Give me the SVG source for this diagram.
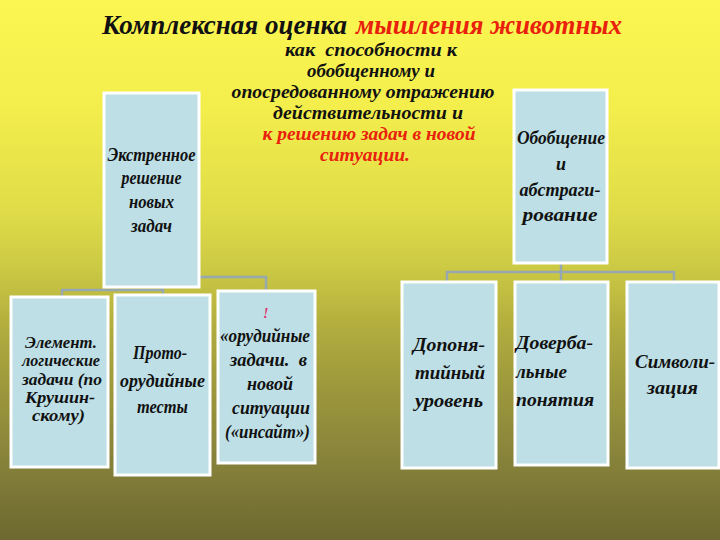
<svg xmlns="http://www.w3.org/2000/svg" width="720" height="540" viewBox="0 0 720 540">
<defs>
<linearGradient id="bg" x1="0" y1="0" x2="0" y2="1">
<stop offset="0" stop-color="#fcf652"/>
<stop offset="0.2" stop-color="#f3ee4c"/>
<stop offset="0.4" stop-color="#dedb48"/>
<stop offset="0.5" stop-color="#cbc844"/>
<stop offset="0.6" stop-color="#b3ae3e"/>
<stop offset="0.7" stop-color="#a09b3c"/>
<stop offset="0.85" stop-color="#87823a"/>
<stop offset="1" stop-color="#6c6830"/>
</linearGradient>
<style>
.box{fill:#bddfe5;stroke:#ffffff;stroke-width:3}
.ln{fill:none;stroke:#98a8b0;stroke-width:2.5}
text{font-family:"Liberation Serif","DejaVu Serif",serif;font-style:italic;font-weight:bold;fill:#111111;white-space:pre}
.c{text-anchor:middle}
.red{fill:#e8200c}
.t{font-size:28px}
.m{font-size:18px}
.b{font-size:18px}
.s{font-size:16px}
</style>
</defs>
<rect x="0" y="0" width="720" height="540" fill="url(#bg)"/>

<g id="title">
<text class="t" x="102" y="34" textLength="245" lengthAdjust="spacingAndGlyphs">Комплексная оценка</text>
<text class="t red" x="356" y="34" textLength="266" lengthAdjust="spacingAndGlyphs">мышления животных</text>
</g>

<g id="definition">
<text class="m c" x="371" y="56" textLength="172" lengthAdjust="spacingAndGlyphs">как  способности к</text>
<text class="m c" x="371" y="77" textLength="128" lengthAdjust="spacingAndGlyphs">обобщенному и</text>
<text class="m c" x="363" y="98" textLength="263" lengthAdjust="spacingAndGlyphs">опосредованному отражению</text>
<text class="m c" x="368" y="119" textLength="190" lengthAdjust="spacingAndGlyphs">действительности и</text>
<text class="m c red" x="369" y="140" textLength="213" lengthAdjust="spacingAndGlyphs">к решению задач в новой</text>
<text class="m c red" x="365" y="161" textLength="90" lengthAdjust="spacingAndGlyphs">ситуации.</text>
</g>

<g id="connectors">
<path class="ln" d="M162 286 V290 M62 297 V290 H163 V295"/>
<path class="ln" d="M198 277 H266 V291"/>
<path class="ln" d="M561 263 V272 M447 282 V272 H674 V282 M561 272 V282"/>
</g>

<g id="n-urgent">
<rect class="box" x="104" y="93" width="95" height="194"/>
<text class="b c" x="151.5" y="161" textLength="88" lengthAdjust="spacingAndGlyphs">Экстренное</text>
<text class="b c" x="151.5" y="184" textLength="60" lengthAdjust="spacingAndGlyphs">решение</text>
<text class="b c" x="151.5" y="208" textLength="45" lengthAdjust="spacingAndGlyphs">новых</text>
<text class="b c" x="151.5" y="232" textLength="41" lengthAdjust="spacingAndGlyphs">задач</text>
</g>

<g id="n-generalization">
<rect class="box" x="514" y="90" width="93" height="173"/>
<text class="b c" x="561" y="144" textLength="88" lengthAdjust="spacingAndGlyphs">Обобщение</text>
<text class="b c" x="561" y="170">и</text>
<text class="b c" x="560" y="196" textLength="81" lengthAdjust="spacingAndGlyphs">абстраги-</text>
<text class="b c" x="560" y="221" textLength="75" lengthAdjust="spacingAndGlyphs">рование</text>
</g>

<g id="n-logic">
<rect class="box" x="11" y="297" width="97" height="170"/>
<text class="s c" x="61" y="348" textLength="72" lengthAdjust="spacingAndGlyphs">Элемент.</text>
<text class="s c" x="61" y="366" textLength="78" lengthAdjust="spacingAndGlyphs">логические</text>
<text class="s c" x="62" y="385" textLength="80" lengthAdjust="spacingAndGlyphs">задачи (по</text>
<text class="s c" x="60" y="403" textLength="70" lengthAdjust="spacingAndGlyphs">Крушин-</text>
<text class="s c" x="58.5" y="421" textLength="53" lengthAdjust="spacingAndGlyphs">скому)</text>
</g>

<g id="n-prototool">
<rect class="box" x="115" y="295" width="95" height="180"/>
<text class="b c" x="160" y="359" textLength="54" lengthAdjust="spacingAndGlyphs">Прото-</text>
<text class="b c" x="162.5" y="387" textLength="85" lengthAdjust="spacingAndGlyphs">орудийные</text>
<text class="b c" x="162.5" y="413" textLength="51" lengthAdjust="spacingAndGlyphs">тесты</text>
</g>

<g id="n-insight">
<rect class="box" x="218" y="291" width="97" height="172"/>
<text x="263" y="318" style="font-size:14px;fill:#e0306a">!</text>
<text class="b c" x="265" y="342" textLength="90" lengthAdjust="spacingAndGlyphs">«орудийные</text>
<text class="b c" x="268.5" y="366" textLength="77" lengthAdjust="spacingAndGlyphs">задачи.  в</text>
<text class="b c" x="270" y="390" textLength="46" lengthAdjust="spacingAndGlyphs">новой</text>
<text class="b c" x="271" y="414" textLength="78" lengthAdjust="spacingAndGlyphs">ситуации</text>
<text class="b c" x="267.5" y="438" textLength="85" lengthAdjust="spacingAndGlyphs">(«инсайт»)</text>
</g>

<g id="n-preconcept">
<rect class="box" x="402" y="282" width="94" height="186"/>
<text class="b c" x="449" y="351" textLength="72" lengthAdjust="spacingAndGlyphs">Допоня-</text>
<text class="b c" x="450" y="379" textLength="70" lengthAdjust="spacingAndGlyphs">тийный</text>
<text class="b c" x="449" y="407" textLength="68" lengthAdjust="spacingAndGlyphs">уровень</text>
</g>

<g id="n-preverbal">
<rect class="box" x="515" y="282" width="93" height="183"/>
<text class="b" x="516" y="349" textLength="77" lengthAdjust="spacingAndGlyphs">Доверба-</text>
<text class="b" x="516" y="378" textLength="51" lengthAdjust="spacingAndGlyphs">льные</text>
<text class="b" x="516" y="406" textLength="78" lengthAdjust="spacingAndGlyphs">понятия</text>
</g>

<g id="n-symbol">
<rect class="box" x="627" y="282" width="92" height="186"/>
<text class="b c" x="675" y="368" textLength="80" lengthAdjust="spacingAndGlyphs">Символи-</text>
<text class="b c" x="672.5" y="394" textLength="51" lengthAdjust="spacingAndGlyphs">зация</text>
</g>
</svg>
